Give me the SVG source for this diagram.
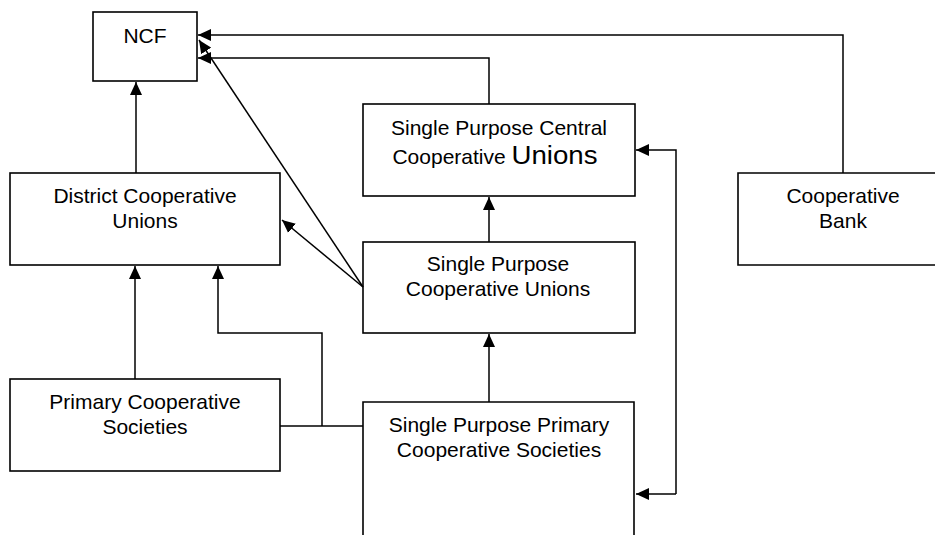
<svg xmlns="http://www.w3.org/2000/svg" width="935" height="535" viewBox="0 0 935 535">
<style>
.box{fill:#fff;stroke:#000;stroke-width:1.6}
.t{font-family:"Liberation Sans",Arial,sans-serif;font-size:21px;fill:#000;text-anchor:middle}
.c{fill:none;stroke:#000;stroke-width:1.5}
</style>
<defs>
<marker id="ah" markerUnits="userSpaceOnUse" markerWidth="14" markerHeight="13" refX="13" refY="6.5" orient="auto">
<path d="M0,0.5 L13,6.5 L0,12.5 z" fill="#000"/>
</marker>
</defs>
<rect width="935" height="535" fill="#fff"/>
<g id="ncf"><rect class="box" x="93" y="12" width="104" height="69"/><text class="t" x="145" y="43">NCF</text></g>
<g id="district"><rect class="box" x="10" y="173" width="270" height="92"/><text class="t" x="145" y="203">District Cooperative</text><text class="t" x="145" y="228">Unions</text></g>
<g id="primary"><rect class="box" x="10" y="379" width="270" height="92"/><text class="t" x="145" y="409">Primary Cooperative</text><text class="t" x="145" y="434">Societies</text></g>
<g id="spccu"><rect class="box" x="363" y="104" width="272" height="92"/><text class="t" x="499" y="135">Single Purpose Central</text><text class="t" x="495" y="164">Cooperative <tspan font-size="25" textLength="86" lengthAdjust="spacingAndGlyphs">Unions</tspan></text></g>
<g id="spcu"><rect class="box" x="363" y="242" width="272" height="91"/><text class="t" x="498" y="271">Single Purpose</text><text class="t" x="498" y="296">Cooperative Unions</text></g>
<g id="sppcs"><path class="box" d="M363,540 V402 H634 V540"/><text class="t" x="499" y="432">Single Purpose Primary</text><text class="t" x="499" y="457">Cooperative Societies</text></g>
<g id="bank"><path class="box" d="M940,173 H738 V265 H940"/><text class="t" x="843" y="203">Cooperative</text><text class="t" x="843" y="228">Bank</text></g>
<g id="connectors">
<path class="c" d="M843,173 V35 H198" marker-end="url(#ah)"/>
<path class="c" d="M489,104 V58 H198" marker-end="url(#ah)"/>
<path class="c" d="M363,287 L199,40" marker-end="url(#ah)"/>
<path class="c" d="M363,287 L282,220" marker-end="url(#ah)"/>
<path class="c" d="M136,173 V82" marker-end="url(#ah)"/>
<path class="c" d="M135,379 V266" marker-end="url(#ah)"/>
<path class="c" d="M280,426 H363"/>
<path class="c" d="M322,426 V333 H218 V266" marker-end="url(#ah)"/>
<path class="c" d="M489,242 V197" marker-end="url(#ah)"/>
<path class="c" d="M489,402 V334" marker-end="url(#ah)"/>
<path class="c" d="M676,494 V150 H636" marker-end="url(#ah)"/>
<path class="c" d="M676,494 H636" marker-end="url(#ah)"/>
</g>
</svg>
